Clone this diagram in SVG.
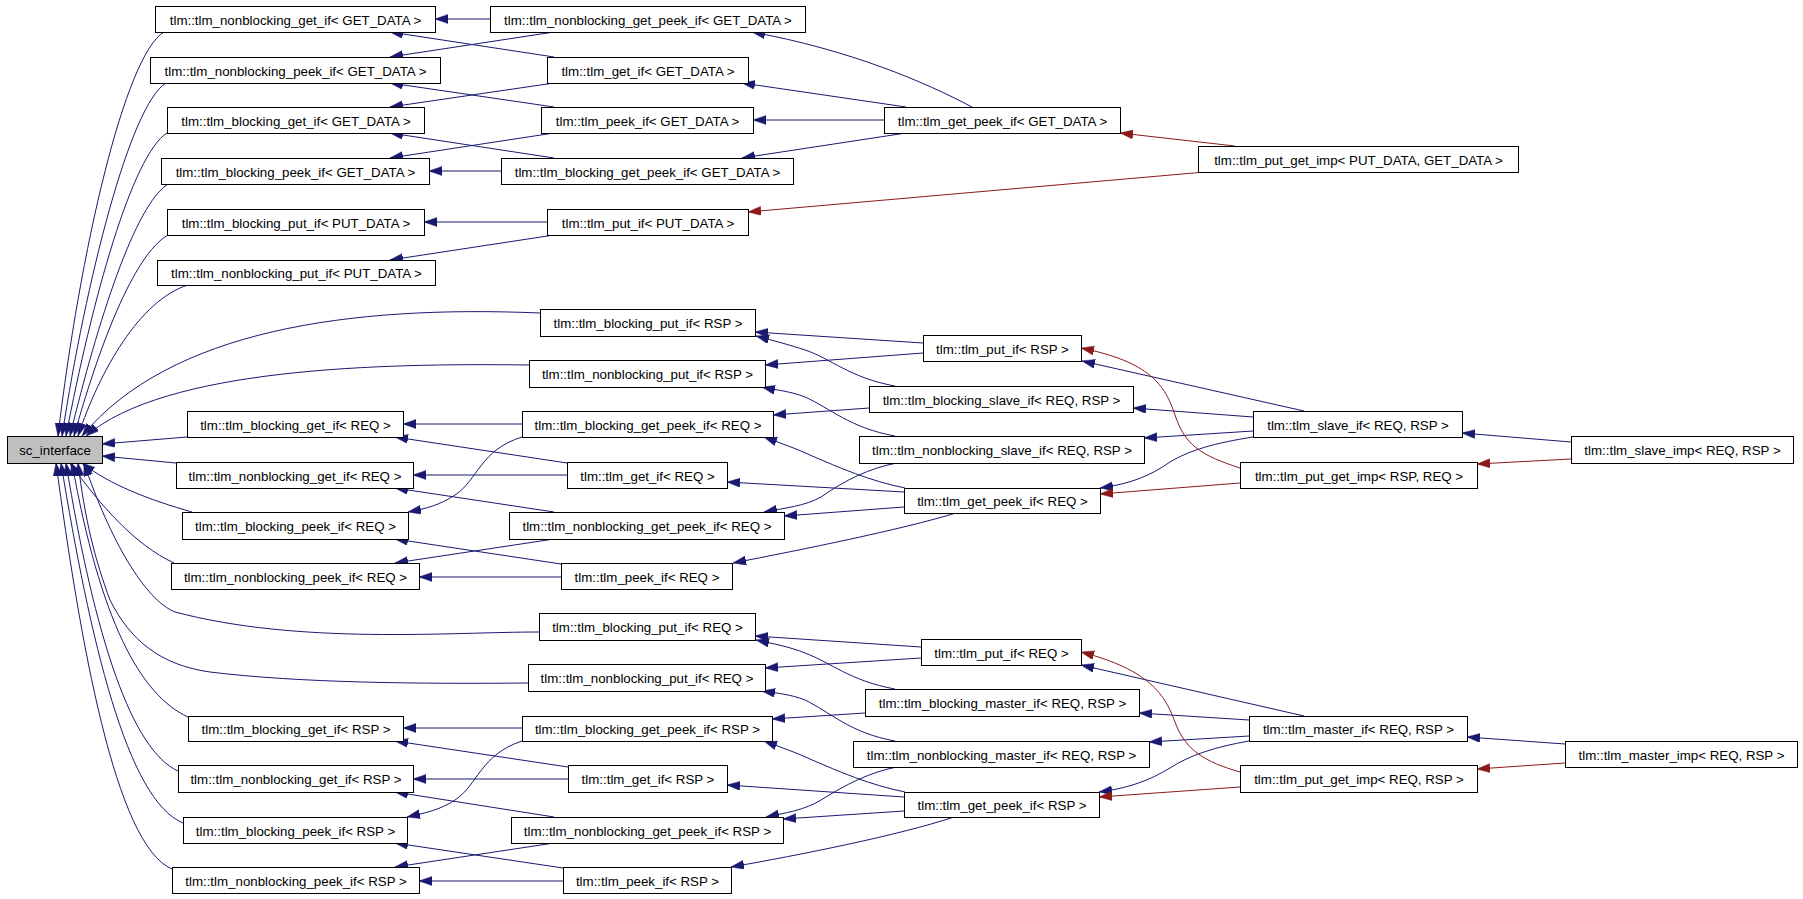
<svg xmlns="http://www.w3.org/2000/svg" width="1803" height="899" viewBox="0 0 1803 899">
<style>
  .node rect { fill: #ffffff; stroke: #000000; stroke-width: 1; }
  .node.root rect { fill: #bfbfbf; }
  .node text { font-family: "Liberation Sans", Arial, Helvetica, sans-serif; font-size: 13.3px; fill: #000000; text-anchor: middle; }
  .edge { fill: none; stroke-width: 1; }
  .pub { stroke: #191970; marker-end: url(#arrow-pub); }
  .tpl { stroke: #8b1a1a; marker-end: url(#arrow-tpl); }
</style>
<defs>
  <marker id="arrow-pub" markerUnits="userSpaceOnUse" markerWidth="14" markerHeight="10" refX="13" refY="4.5" orient="auto">
    <path d="M0,0 L13,4.5 L0,9 z" fill="#191970" stroke="#191970" stroke-width="0.5"/>
  </marker>
  <marker id="arrow-tpl" markerUnits="userSpaceOnUse" markerWidth="14" markerHeight="10" refX="13" refY="4.5" orient="auto">
    <path d="M0,0 L13,4.5 L0,9 z" fill="#8b1a1a" stroke="#8b1a1a" stroke-width="0.5"/>
  </marker>
</defs>
<rect width="1803" height="899" fill="#ffffff"/>

<g id="edges">
  <!-- GET_DATA / PUT_DATA interfaces -->
  <path class="edge pub" d="M490,19 L435,19"/>
  <path class="edge pub" d="M554,32 L390,57"/>
  <path class="edge pub" d="M554,57 L390,32"/>
  <path class="edge pub" d="M554,83 L390,107"/>
  <path class="edge pub" d="M554,107 L390,83"/>
  <path class="edge pub" d="M554,133 L390,158"/>
  <path class="edge pub" d="M554,158 L390,133"/>
  <path class="edge pub" d="M501,171 L429,171"/>
  <path class="edge pub" d="M547,222 L424,222"/>
  <path class="edge pub" d="M554,235 L390,260"/>
  <path class="edge pub" d="M972,107 C925,82 850,50 752,32"/>
  <path class="edge pub" d="M906,107 L742,83"/>
  <path class="edge pub" d="M884,120 L753,120"/>
  <path class="edge pub" d="M906,133 L742,158"/>
  <path class="edge tpl" d="M1235,146 L1120,133"/>
  <path class="edge tpl" d="M1205,172 L748,212"/>

  <!-- into sc_interface from above -->
  <path class="edge pub" d="M164,32 C125,55 80,250 58,436"/>
  <path class="edge pub" d="M166,83 C130,105 86,280 62,436"/>
  <path class="edge pub" d="M167,133 C132,155 92,300 66,436"/>
  <path class="edge pub" d="M168,184 C135,205 98,320 70,436"/>
  <path class="edge pub" d="M168,235 C133,255 98,350 74,436"/>
  <path class="edge pub" d="M188,285 C140,300 100,370 78,436"/>
  <path class="edge pub" d="M540,313 C350,305 170,330 82,436"/>
  <path class="edge pub" d="M529,365 C380,363 165,368 86,436"/>
  <!-- into sc_interface from the right -->
  <path class="edge pub" d="M187,437 L102,444"/>
  <path class="edge pub" d="M176,463 L102,456"/>
  <!-- into sc_interface from below -->
  <path class="edge pub" d="M192,512 C150,500 110,485 82,463"/>
  <path class="edge pub" d="M174,563 C135,545 100,505 70,463"/>
  <path class="edge pub" d="M539,632 C450,632 300,645 175,612 C145,600 110,540 84,463"/>
  <path class="edge pub" d="M528,683 C420,684 300,683 210,672 C160,665 130,640 110,600 C95,560 85,520 78,463"/>
  <path class="edge pub" d="M188,717 C140,695 100,620 72,463"/>
  <path class="edge pub" d="M178,771 C132,750 95,640 66,463"/>
  <path class="edge pub" d="M183,823 C127,800 90,640 61,463"/>
  <path class="edge pub" d="M172,869 C115,845 80,640 56,463"/>

  <!-- slave side (REQ get/peek, RSP put) -->
  <path class="edge pub" d="M923,343 L755,332"/>
  <path class="edge pub" d="M923,353 L765,365"/>
  <path class="edge pub" d="M895,386 C850,378 830,358 805,350 C790,345 775,341 756,336"/>
  <path class="edge pub" d="M869,408 L773,415"/>
  <path class="edge pub" d="M895,436 C850,428 830,408 805,397 C790,391 775,390 762,387"/>
  <path class="edge pub" d="M897,463 C870,468 845,480 821,497 C805,506 785,508 764,512"/>
  <path class="edge pub" d="M905,488 C870,481 840,468 810,455 C795,448 780,443 764,437"/>
  <path class="edge pub" d="M904,492 L727,482"/>
  <path class="edge pub" d="M904,507 L784,516"/>
  <path class="edge pub" d="M956,513 C900,530 800,550 733,563"/>
  <path class="edge pub" d="M522,424 L403,424"/>
  <path class="edge pub" d="M522,437 C480,450 478,480 455,495 C440,505 425,509 408,512"/>
  <path class="edge pub" d="M567,463 L395,437"/>
  <path class="edge pub" d="M567,475 L413,475"/>
  <path class="edge pub" d="M554,512 L395,488"/>
  <path class="edge pub" d="M554,539 L395,563"/>
  <path class="edge pub" d="M561,564 L395,539"/>
  <path class="edge pub" d="M561,577 L419,577"/>
  <path class="edge pub" d="M1304,411 L1082,361"/>
  <path class="edge pub" d="M1253,417 L1133,408"/>
  <path class="edge pub" d="M1253,431 L1144,438"/>
  <path class="edge pub" d="M1253,437 C1215,443 1190,450 1170,462 C1150,476 1130,484 1100,488"/>
  <path class="edge tpl" d="M1240,468 C1200,455 1185,445 1175,415 C1165,385 1150,362 1081,348"/>
  <path class="edge tpl" d="M1240,483 L1100,494"/>
  <path class="edge pub" d="M1571,442 L1462,433"/>
  <path class="edge tpl" d="M1571,459 L1477,464"/>

  <!-- master side (REQ put, RSP get/peek) -->
  <path class="edge pub" d="M921,647 L755,636"/>
  <path class="edge pub" d="M921,658 L765,668"/>
  <path class="edge pub" d="M895,689 C850,681 830,662 805,653 C790,647 775,644 756,640"/>
  <path class="edge pub" d="M865,713 L772,719"/>
  <path class="edge pub" d="M895,741 C850,733 830,712 805,700 C790,694 775,693 762,691"/>
  <path class="edge pub" d="M897,767 C870,772 845,785 821,800 C805,810 785,813 766,817"/>
  <path class="edge pub" d="M905,792 C870,785 840,772 810,759 C795,752 780,747 764,741"/>
  <path class="edge pub" d="M904,797 L727,785"/>
  <path class="edge pub" d="M904,811 L783,819"/>
  <path class="edge pub" d="M954,817 C900,835 800,855 731,867"/>
  <path class="edge pub" d="M522,728 L403,728"/>
  <path class="edge pub" d="M522,741 C480,755 478,785 455,800 C440,810 425,813 407,817"/>
  <path class="edge pub" d="M568,767 L395,741"/>
  <path class="edge pub" d="M568,779 L413,779"/>
  <path class="edge pub" d="M554,817 L395,792"/>
  <path class="edge pub" d="M554,843 L395,867"/>
  <path class="edge pub" d="M563,868 L395,843"/>
  <path class="edge pub" d="M563,881 L419,881"/>
  <path class="edge pub" d="M1304,716 L1081,665"/>
  <path class="edge pub" d="M1249,720 L1139,713"/>
  <path class="edge pub" d="M1249,736 L1149,742"/>
  <path class="edge pub" d="M1249,741 C1215,747 1190,755 1170,768 C1150,780 1130,788 1099,792"/>
  <path class="edge tpl" d="M1240,772 C1205,762 1185,750 1175,722 C1165,695 1150,670 1081,652"/>
  <path class="edge tpl" d="M1240,787 L1099,797"/>
  <path class="edge pub" d="M1565,744 L1467,737"/>
  <path class="edge tpl" d="M1565,763 L1477,769"/>
</g>

<g id="sc_interface" class="node root"><rect x="7.5" y="436.5" width="95" height="27"/><text x="55" y="455">sc_interface</text></g>

<g id="nb_get_if_GET_DATA" class="node"><rect x="155.5" y="6.5" width="280" height="26"/><text x="295.5" y="24.5">tlm::tlm_nonblocking_get_if&lt; GET_DATA &gt;</text></g>
<g id="nb_peek_if_GET_DATA" class="node"><rect x="150.5" y="57.5" width="290" height="26"/><text x="295.5" y="75.5">tlm::tlm_nonblocking_peek_if&lt; GET_DATA &gt;</text></g>
<g id="b_get_if_GET_DATA" class="node"><rect x="167.5" y="107.5" width="257" height="26"/><text x="296" y="125.5">tlm::tlm_blocking_get_if&lt; GET_DATA &gt;</text></g>
<g id="b_peek_if_GET_DATA" class="node"><rect x="161.5" y="158.5" width="268" height="26"/><text x="295.5" y="176.5">tlm::tlm_blocking_peek_if&lt; GET_DATA &gt;</text></g>
<g id="b_put_if_PUT_DATA" class="node"><rect x="167.5" y="209.5" width="257" height="26"/><text x="296" y="227.5">tlm::tlm_blocking_put_if&lt; PUT_DATA &gt;</text></g>
<g id="nb_put_if_PUT_DATA" class="node"><rect x="157.5" y="260.5" width="278" height="25"/><text x="296.5" y="278">tlm::tlm_nonblocking_put_if&lt; PUT_DATA &gt;</text></g>
<g id="nb_get_peek_if_GET_DATA" class="node"><rect x="490.5" y="6.5" width="315" height="26"/><text x="648" y="24.5">tlm::tlm_nonblocking_get_peek_if&lt; GET_DATA &gt;</text></g>
<g id="get_if_GET_DATA" class="node"><rect x="547.5" y="57.5" width="201" height="26"/><text x="648" y="75.5">tlm::tlm_get_if&lt; GET_DATA &gt;</text></g>
<g id="peek_if_GET_DATA" class="node"><rect x="541.5" y="107.5" width="212" height="26"/><text x="647.5" y="125.5">tlm::tlm_peek_if&lt; GET_DATA &gt;</text></g>
<g id="b_get_peek_if_GET_DATA" class="node"><rect x="501.5" y="158.5" width="292" height="26"/><text x="647.5" y="176.5">tlm::tlm_blocking_get_peek_if&lt; GET_DATA &gt;</text></g>
<g id="put_if_PUT_DATA" class="node"><rect x="547.5" y="209.5" width="201" height="26"/><text x="648" y="227.5">tlm::tlm_put_if&lt; PUT_DATA &gt;</text></g>
<g id="get_peek_if_GET_DATA" class="node"><rect x="884.5" y="107.5" width="236" height="26"/><text x="1002.5" y="125.5">tlm::tlm_get_peek_if&lt; GET_DATA &gt;</text></g>
<g id="put_get_imp_PUT_DATA_GET_DATA" class="node"><rect x="1198.5" y="146.5" width="320" height="26"/><text x="1358.5" y="164.5">tlm::tlm_put_get_imp&lt; PUT_DATA, GET_DATA &gt;</text></g>

<g id="b_put_if_RSP" class="node"><rect x="540.5" y="309.5" width="215" height="27"/><text x="648" y="328">tlm::tlm_blocking_put_if&lt; RSP &gt;</text></g>
<g id="nb_put_if_RSP" class="node"><rect x="529.5" y="360.5" width="236" height="27"/><text x="647.5" y="379">tlm::tlm_nonblocking_put_if&lt; RSP &gt;</text></g>
<g id="b_get_if_REQ" class="node"><rect x="187.5" y="411.5" width="216" height="26"/><text x="295.5" y="429.5">tlm::tlm_blocking_get_if&lt; REQ &gt;</text></g>
<g id="b_get_peek_if_REQ" class="node"><rect x="522.5" y="411.5" width="251" height="26"/><text x="648" y="429.5">tlm::tlm_blocking_get_peek_if&lt; REQ &gt;</text></g>
<g id="nb_get_if_REQ" class="node"><rect x="176.5" y="462.5" width="237" height="26"/><text x="295" y="480.5">tlm::tlm_nonblocking_get_if&lt; REQ &gt;</text></g>
<g id="get_if_REQ" class="node"><rect x="567.5" y="462.5" width="160" height="26"/><text x="647.5" y="480.5">tlm::tlm_get_if&lt; REQ &gt;</text></g>
<g id="b_peek_if_REQ" class="node"><rect x="182.5" y="512.5" width="226" height="27"/><text x="295.5" y="531">tlm::tlm_blocking_peek_if&lt; REQ &gt;</text></g>
<g id="nb_get_peek_if_REQ" class="node"><rect x="509.5" y="512.5" width="275" height="27"/><text x="647" y="531">tlm::tlm_nonblocking_get_peek_if&lt; REQ &gt;</text></g>
<g id="nb_peek_if_REQ" class="node"><rect x="171.5" y="563.5" width="248" height="26"/><text x="295.5" y="581.5">tlm::tlm_nonblocking_peek_if&lt; REQ &gt;</text></g>
<g id="peek_if_REQ" class="node"><rect x="561.5" y="563.5" width="171" height="26"/><text x="647" y="581.5">tlm::tlm_peek_if&lt; REQ &gt;</text></g>
<g id="put_if_RSP" class="node"><rect x="923.5" y="335.5" width="158" height="26"/><text x="1002.5" y="353.5">tlm::tlm_put_if&lt; RSP &gt;</text></g>
<g id="b_slave_if" class="node"><rect x="869.5" y="386.5" width="264" height="26"/><text x="1001.5" y="404.5">tlm::tlm_blocking_slave_if&lt; REQ, RSP &gt;</text></g>
<g id="nb_slave_if" class="node"><rect x="859.5" y="436.5" width="285" height="27"/><text x="1002" y="455">tlm::tlm_nonblocking_slave_if&lt; REQ, RSP &gt;</text></g>
<g id="get_peek_if_REQ" class="node"><rect x="904.5" y="488.5" width="196" height="25"/><text x="1002.5" y="506">tlm::tlm_get_peek_if&lt; REQ &gt;</text></g>
<g id="slave_if" class="node"><rect x="1253.5" y="411.5" width="209" height="26"/><text x="1358" y="429.5">tlm::tlm_slave_if&lt; REQ, RSP &gt;</text></g>
<g id="put_get_imp_RSP_REQ" class="node"><rect x="1240.5" y="462.5" width="237" height="26"/><text x="1359" y="480.5">tlm::tlm_put_get_imp&lt; RSP, REQ &gt;</text></g>
<g id="slave_imp" class="node"><rect x="1571.5" y="436.5" width="222" height="27"/><text x="1682.5" y="455">tlm::tlm_slave_imp&lt; REQ, RSP &gt;</text></g>

<g id="b_put_if_REQ" class="node"><rect x="539.5" y="613.5" width="216" height="27"/><text x="647.5" y="632">tlm::tlm_blocking_put_if&lt; REQ &gt;</text></g>
<g id="nb_put_if_REQ" class="node"><rect x="528.5" y="664.5" width="237" height="27"/><text x="647" y="683">tlm::tlm_nonblocking_put_if&lt; REQ &gt;</text></g>
<g id="b_get_if_RSP" class="node"><rect x="188.5" y="716.5" width="215" height="25"/><text x="296" y="734">tlm::tlm_blocking_get_if&lt; RSP &gt;</text></g>
<g id="b_get_peek_if_RSP" class="node"><rect x="522.5" y="716.5" width="250" height="25"/><text x="647.5" y="734">tlm::tlm_blocking_get_peek_if&lt; RSP &gt;</text></g>
<g id="nb_get_if_RSP" class="node"><rect x="178.5" y="765.5" width="235" height="27"/><text x="296" y="784">tlm::tlm_nonblocking_get_if&lt; RSP &gt;</text></g>
<g id="get_if_RSP" class="node"><rect x="568.5" y="765.5" width="159" height="27"/><text x="648" y="784">tlm::tlm_get_if&lt; RSP &gt;</text></g>
<g id="b_peek_if_RSP" class="node"><rect x="183.5" y="817.5" width="224" height="26"/><text x="295.5" y="835.5">tlm::tlm_blocking_peek_if&lt; RSP &gt;</text></g>
<g id="nb_get_peek_if_RSP" class="node"><rect x="511.5" y="817.5" width="272" height="26"/><text x="647.5" y="835.5">tlm::tlm_nonblocking_get_peek_if&lt; RSP &gt;</text></g>
<g id="nb_peek_if_RSP" class="node"><rect x="172.5" y="867.5" width="247" height="26"/><text x="296" y="885.5">tlm::tlm_nonblocking_peek_if&lt; RSP &gt;</text></g>
<g id="peek_if_RSP" class="node"><rect x="563.5" y="867.5" width="168" height="26"/><text x="647.5" y="885.5">tlm::tlm_peek_if&lt; RSP &gt;</text></g>
<g id="put_if_REQ" class="node"><rect x="921.5" y="639.5" width="160" height="26"/><text x="1001.5" y="657.5">tlm::tlm_put_if&lt; REQ &gt;</text></g>
<g id="b_master_if" class="node"><rect x="865.5" y="689.5" width="274" height="27"/><text x="1002.5" y="708">tlm::tlm_blocking_master_if&lt; REQ, RSP &gt;</text></g>
<g id="nb_master_if" class="node"><rect x="853.5" y="741.5" width="296" height="26"/><text x="1001.5" y="759.5">tlm::tlm_nonblocking_master_if&lt; REQ, RSP &gt;</text></g>
<g id="get_peek_if_RSP" class="node"><rect x="904.5" y="792.5" width="195" height="25"/><text x="1002" y="810">tlm::tlm_get_peek_if&lt; RSP &gt;</text></g>
<g id="master_if" class="node"><rect x="1249.5" y="716.5" width="218" height="25"/><text x="1358.5" y="734">tlm::tlm_master_if&lt; REQ, RSP &gt;</text></g>
<g id="put_get_imp_REQ_RSP" class="node"><rect x="1240.5" y="765.5" width="237" height="27"/><text x="1359" y="784">tlm::tlm_put_get_imp&lt; REQ, RSP &gt;</text></g>
<g id="master_imp" class="node"><rect x="1565.5" y="741.5" width="232" height="26"/><text x="1681.5" y="759.5">tlm::tlm_master_imp&lt; REQ, RSP &gt;</text></g>
</svg>
